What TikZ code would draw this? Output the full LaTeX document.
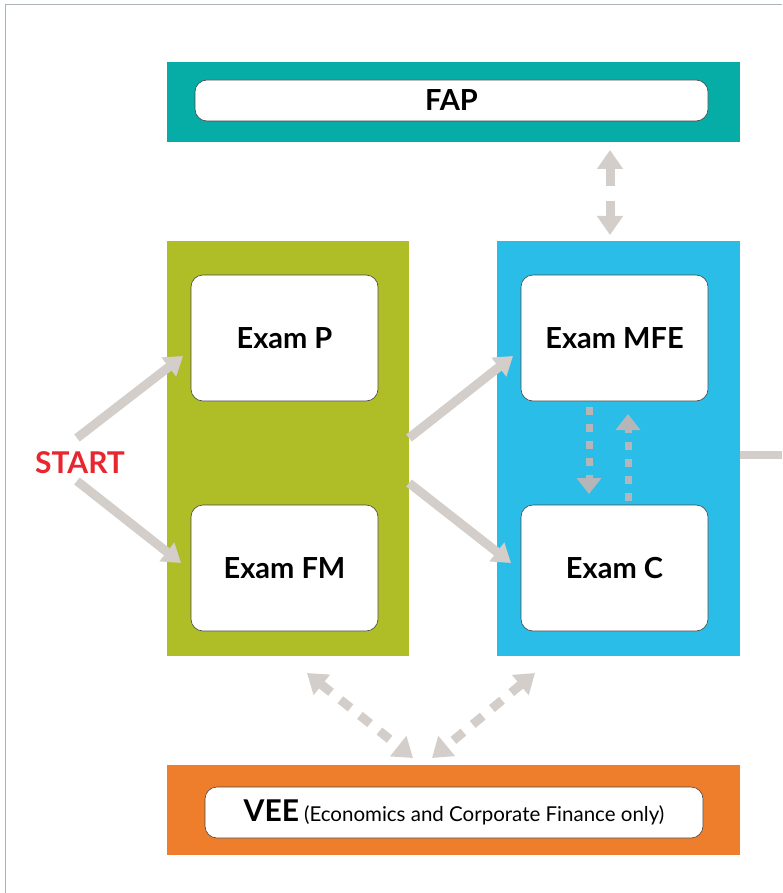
\documentclass[tikz,border=0pt]{standalone}
\usepackage{fontspec}
\setmainfont{Lato}
\usetikzlibrary{arrows.meta}

\definecolor{fapteal}{RGB}{6,173,167}
\definecolor{examgreen}{RGB}{175,189,38}
\definecolor{examblue}{RGB}{42,189,231}
\definecolor{veeorange}{RGB}{238,126,43}
\definecolor{flowgray}{RGB}{211,206,202}
\definecolor{dashgray}{RGB}{182,182,184}
\definecolor{startred}{RGB}{232,38,47}
\definecolor{framegray}{RGB}{170,178,188}

\tikzset{every picture/.style={line width=0.75pt}}
\tikzset{
  panel/.style={draw=none, inner sep=0pt},
  exambox/.style={draw={rgb,255:red,70;green,70;blue,70}, line width=0.6pt, fill=white, rounded corners=12pt,
    minimum width=187pt, minimum height=126pt, inner sep=0pt, font=\fontsize{29}{34}\selectfont\bfseries},
  pillbox/.style={draw={rgb,255:red,70;green,70;blue,70}, line width=0.6pt, fill=white, rounded corners=12pt, inner sep=0pt},
  flow/.style={draw=flowgray, line width=9pt, -{Triangle[width=23pt,length=18pt]}},
  swap/.style={draw=dashgray, line width=7pt, dash pattern=on 8pt off 9pt, -{Triangle[width=24pt,length=16pt]}},
  link/.style={draw=flowgray, line width=9pt, {Triangle[width=25pt,length=19pt]}-{Triangle[width=25pt,length=19pt]}}
}

\begin{document}
\begin{tikzpicture}[x=1pt,y=1pt,yscale=-1,xscale=1]
\useasboundingbox (0,0) rectangle (782,893);

%Frame lines
\draw [framegray, line width=1pt] (782,5) -- (5,5) -- (5,893);

%Shape: FAP panel
\node [panel, fill=fapteal, minimum width=573pt, minimum height=80pt] (fapPanel) at (453.5,102) {};
\node [pillbox, minimum width=513pt, minimum height=41pt, font=\fontsize{29}{34}\selectfont\bfseries] (fap) at (451.5,100.5) {FAP};

%Shape: green panel
\node [panel, fill=examgreen, minimum width=242pt, minimum height=415pt] (greenPanel) at (288,448.5) {};
\node [exambox] (examP) at (284.5,338) {Exam P};
\node [exambox] (examFM) at (284.5,568) {Exam FM};

%Shape: blue panel
\node [panel, fill=examblue, minimum width=243pt, minimum height=415pt] (bluePanel) at (618.5,448.5) {};
\node [exambox] (examMFE) at (614.5,338) {Exam MFE};
\node [exambox] (examC) at (614.5,568) {Exam C};

%Shape: VEE panel
\node [panel, fill=veeorange, minimum width=573pt, minimum height=90pt] (veePanel) at (453.5,810) {};
\node [pillbox, minimum width=498pt, minimum height=51pt] (vee) at (454,812.5)
  {{\fontsize{30}{34}\selectfont\bfseries VEE}\hspace{5pt}{\fontsize{20.5}{24}\selectfont (Economics and Corporate Finance only)}};

% Text Node
\node [text=startred, font=\fontsize{30}{35}\selectfont\bfseries, inner sep=0pt] (start) at (80,463) {START};

%Connector points
\coordinate (startUp) at (77,438);
\coordinate (startDown) at (77,481);
\coordinate (pIn) at (183,356);
\coordinate (fmIn) at (181,563);
\coordinate (greenUp) at (409,438);
\coordinate (greenDown) at (409,483);
\coordinate (mfeIn) at (513,356);
\coordinate (cIn) at (511,563);
\coordinate (blueOut) at (782,455);
\coordinate (fapOut) at (610,150);
\coordinate (mfeTop) at (610,235);
\coordinate (mfeDown) at (589,407);
\coordinate (cTop) at (589,494);
\coordinate (cUp) at (628,501);
\coordinate (mfeBottom) at (628,414);
\coordinate (greenBottom) at (307,673);
\coordinate (veeLeft) at (413,758);
\coordinate (blueBottom) at (535,673);
\coordinate (veeRight) at (432,758);

%Straight Lines
\draw [flow] (startUp) -- (pIn);
\draw [flow] (startDown) -- (fmIn);
\draw [flow] (greenUp) -- (mfeIn);
\draw [flow] (greenDown) -- (cIn);
\draw [draw=flowgray, line width=8pt] (bluePanel.east |- blueOut) -- (blueOut);
\draw [link, dash pattern=on 18pt off 15pt on 40pt] (fapOut) -- (mfeTop);
\draw [swap] (mfeDown) -- (cTop);
\draw [swap] (cUp) -- (mfeBottom);
\draw [link, dash pattern=on 13pt off 12pt] (greenBottom) -- (veeLeft);
\draw [link, dash pattern=on 13pt off 12pt] (blueBottom) -- (veeRight);

\end{tikzpicture}
\end{document}
